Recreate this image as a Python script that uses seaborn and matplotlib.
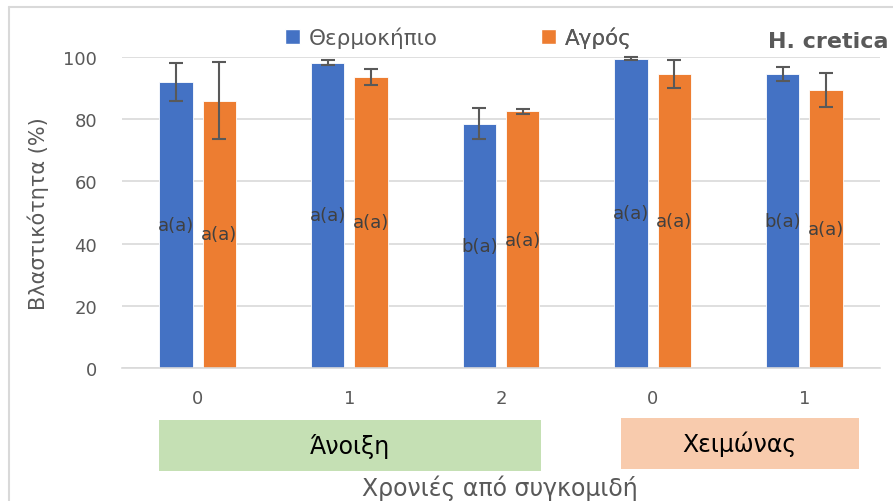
import matplotlib
matplotlib.use("Agg")
import matplotlib.pyplot as plt
from matplotlib.patches import Rectangle, Patch
from matplotlib.lines import Line2D
import matplotlib.transforms as mtransforms
import seaborn as sns
from pandas import DataFrame

# years after harvest, tick labels per group
year_labels = ["0", "1", "2", "0", "1"]
series_names = ["Θερμοκήπιο", "Αγρός"]
greenhouse = [92.0, 98.1, 78.5, 99.4, 94.5]
greenhouse_err = [6.1, 0.8, 5.0, 0.5, 2.3]
field = [85.9, 93.6, 82.6, 94.5, 89.3]
field_err = [12.4, 2.6, 0.8, 4.5, 5.5]
greenhouse_letters = ["a(a)", "a(a)", "b(a)", "a(a)", "b(a)"]
field_letters = ["a(a)", "a(a)", "a(a)", "a(a)", "a(a)"]
seasons = ["Άνοιξη", "Χειμώνας"]

blue = "#4472C4"
orange = "#ED7D31"
grey = "#595959"

# layout of the season boxes (x in group units, y in pixels from top)
box_x = [(-0.254, 2.264), (2.79, 4.36)]
box_y = [(421, 472), (419, 470)]
box_colors = ["#C5E0B4", "#F8CBAD"]

slots = [f"g{i}" for i in range(len(year_labels))]
df = DataFrame({
    "slot": slots * 2,
    "value": greenhouse + field,
    "err": greenhouse_err + field_err,
    "label": greenhouse_letters + field_letters,
    "series": [series_names[0]] * 5 + [series_names[1]] * 5,
})

sns.set_theme(style="white")
plt.rcParams["font.family"] = ["DejaVu Sans"]

fig = plt.figure(figsize=(8.93, 5.02), dpi=100)
ax = fig.add_axes([122 / 893, 1 - 369 / 502, (880 - 122) / 893, (369 - 58) / 502])

sns.barplot(data=df, x="slot", y="value", hue="series", order=slots,
            hue_order=series_names, palette=[blue, orange], saturation=1,
            width=0.572, gap=0.23, errorbar=None, edgecolor="white",
            linewidth=0.6, legend=False, ax=ax)

# error bars and letters from bar geometry
bars = ax.patches
for bar, (_, row) in zip(bars, df.iterrows()):
    cx = bar.get_x() + bar.get_width() / 2
    h = bar.get_height()
    ax.errorbar(cx, h, yerr=row["err"], color=grey, capsize=5,
                elinewidth=1.5, capthick=1.5, clip_on=False, zorder=5)
    ax.text(cx, h / 2, row["label"], ha="center", va="center",
            fontsize=13, color="#404040", zorder=6)

ax.set_ylim(0, 100)
ax.set_xlim(-0.5, 4.5)
ax.set_yticks(range(0, 101, 20))
ax.yaxis.grid(True, color="#d9d9d9", linewidth=1.2)
ax.set_axisbelow(True)
for s in ["top", "right", "left"]:
    ax.spines[s].set_visible(False)
ax.spines["bottom"].set_color("#d9d9d9")
ax.spines["bottom"].set_linewidth(1.2)
ax.set_xticks(range(len(year_labels)))
ax.set_xticklabels(year_labels)
ax.tick_params(axis="x", length=0, pad=15, labelsize=13, labelcolor=grey)
ax.tick_params(axis="y", length=0, pad=18, labelsize=13, labelcolor=grey)
ax.set_xlabel("")
ax.set_ylabel("Βλαστικότητα (%)", fontsize=15, color=grey, labelpad=10)

# season boxes under the axis
trans = mtransforms.blended_transform_factory(ax.transData, fig.transFigure)
for name, (left, right), col, (y0, y1) in zip(seasons, box_x, box_colors, box_y):
    fb0, fb1 = 1 - y1 / 502, 1 - y0 / 502
    fig.patches.append(Rectangle((left, fb0), right - left, fb1 - fb0,
                                 transform=trans, facecolor=col, edgecolor="none"))
    fig.text((left + right) / 2, (fb0 + fb1) / 2, name, transform=trans,
             ha="center", va="center", fontsize=17, color="black")

fig.text(500 / 893, 1 - 488 / 502, "Χρονιές από συγκομιδή", ha="center",
         va="center", fontsize=17, color=grey)

# two single-entry legends, placed like the original
leg_x = [285, 541]
for name, col, lx in zip(series_names, [blue, orange], leg_x):
    leg = ax.legend(handles=[Patch(facecolor=col, label=name)], loc="center left",
                    bbox_to_anchor=(lx / 893, 1 - 38 / 502),
                    bbox_transform=fig.transFigure, frameon=False, fontsize=15.5,
                    labelcolor=grey, handlelength=0.7, handleheight=0.7,
                    handletextpad=0.4, borderpad=0, borderaxespad=0)
    ax.add_artist(leg)

fig.text(888 / 893, 1 - 42 / 502, "H. cretica", ha="right", va="center",
         fontsize=16, fontweight="bold", color=grey)

# chart-area border (top and left edges visible)
fig.add_artist(Line2D([9 / 893, 9 / 893], [0, 1 - 8 / 502], transform=fig.transFigure,
                      color="#d9d9d9", linewidth=1.5))
fig.add_artist(Line2D([9 / 893, 1], [1 - 8 / 502, 1 - 8 / 502], transform=fig.transFigure,
                      color="#d9d9d9", linewidth=1.5))

fig.savefig("out.png", dpi=100, facecolor="white")
